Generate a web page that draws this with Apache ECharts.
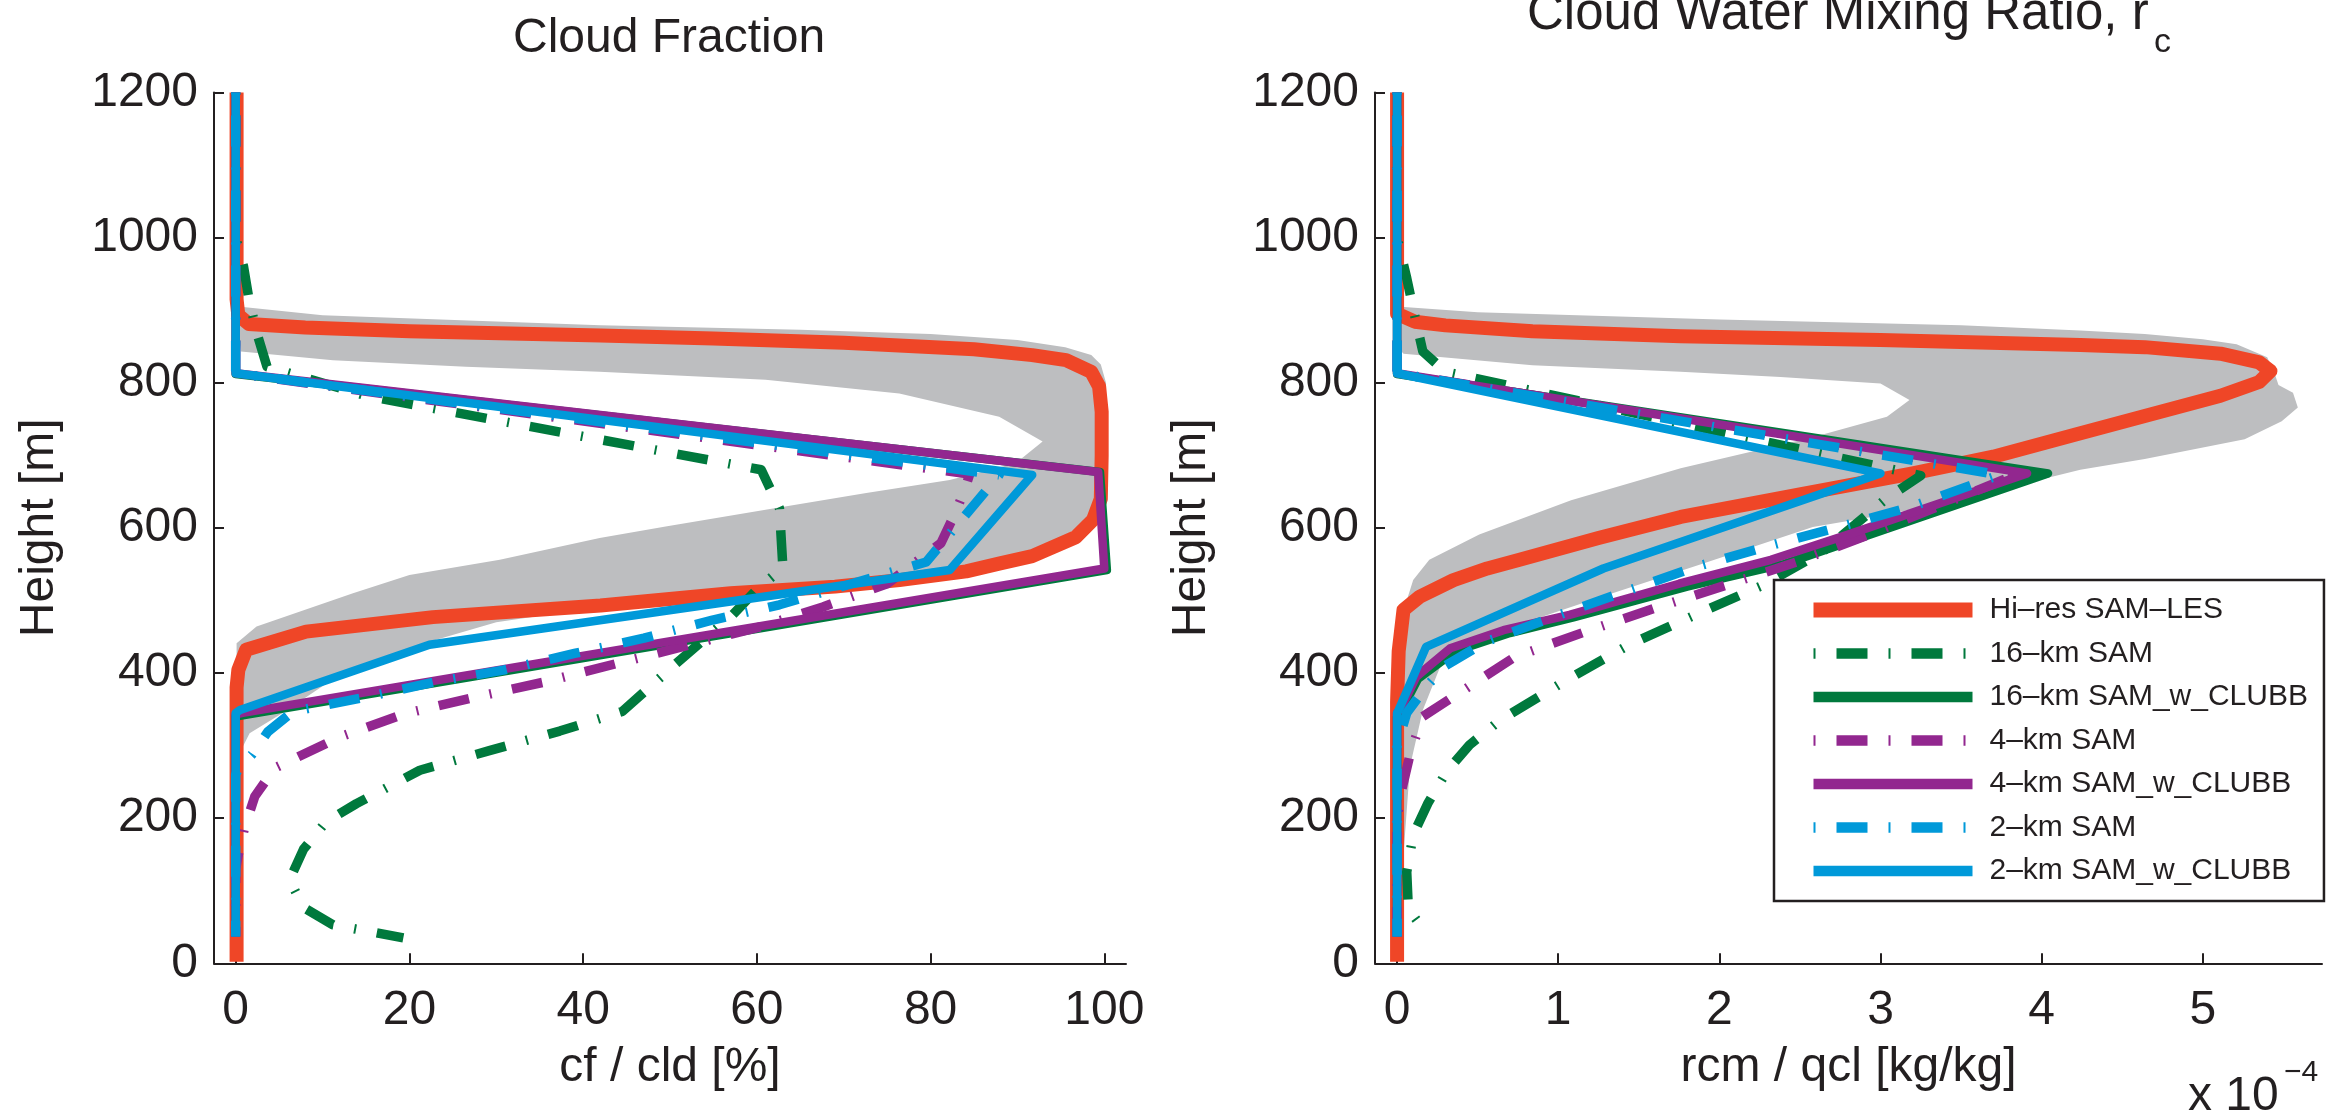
<!DOCTYPE html>
<html>
<head>
<meta charset="utf-8">
<script src="https://cdn.jsdelivr.net/npm/echarts@6/dist/echarts.min.js"></script>
<style>
  html, body { margin: 0; padding: 0; background: #fff; }
  #chart { width: 2350px; height: 1117px; }
</style>
</head>
<body>
<div id="chart"></div>
<script>
// ---------- Cloud fraction profiles: [cf (%), height (m)] ----------
const cfTicks = [0, 20, 40, 60, 80, 100];

// LES ensemble spread (outer edge top -> bottom, inner edge bottom -> top)
const cfBandOuter = [[0.3, 905], [10, 893], [42, 879], [65, 873], [80, 867], [90, 859], [95.5, 849], [98.5, 838],
  [99.6, 825], [100.2, 800], [100.3, 700], [100, 660], [99.2, 630], [97.5, 605], [95, 585], [91.7, 565], [84, 542],
  [72, 526], [57, 509], [42, 491], [30, 470], [22, 442], [12, 398], [5.4, 345], [1.6, 317], [0.8, 298], [0.2, 280]];
const cfBandInner = [[0.1, 300], [0.1, 441], [2.4, 464], [13.5, 510], [20, 535], [30.4, 556], [41.9, 586], [49.5, 602],
  [61, 625], [72.6, 648], [82.2, 666], [89.8, 689], [92.9, 719], [87.9, 753], [76.4, 785], [61, 804], [41.9, 815],
  [26.5, 822], [11.2, 831], [0.6, 843], [0.3, 870]];

const cfLes = [[0.1, 2], [0.1, 380], [0.3, 404], [1.2, 432], [8.1, 457], [22.7, 477], [42, 493], [57, 510], [69, 519],
  [76.4, 528], [84.1, 540], [88, 551], [91.7, 561], [96.7, 587], [98.7, 611], [99.6, 640], [99.7, 700], [99.7, 760],
  [99.4, 795], [98.5, 815], [95.6, 831], [91.7, 838], [85, 846], [70, 855], [55, 861], [42, 865], [20, 871], [8, 876],
  [1.5, 881], [0.3, 893], [0.1, 915], [0.1, 1200]];
const cf16km = [[0, 1200], [0, 1000], [0.9, 960], [1.5, 917], [2.4, 870], [3.6, 822], [15, 782], [60.5, 680],
  [62.6, 627], [63, 545], [60, 515], [57.2, 480], [50.7, 413], [44.5, 347], [37.3, 320], [29.2, 293], [21.2, 266],
  [13.9, 220], [10.4, 195], [7.8, 157], [6.2, 115], [7.8, 77], [11.2, 53], [15.3, 44], [19.3, 35]];
const cf16kmClubb = [[0, 1200], [0, 812], [99.5, 677], [100.3, 542], [1, 342], [0, 340], [0, 37]];
const cf4km = [[0, 1200], [0, 813], [84.5, 674], [84, 655], [82.9, 622], [81.2, 579], [75, 523], [67.6, 491],
  [60.5, 464], [35.7, 388], [27.7, 367], [19.5, 344], [12, 312], [4.5, 269], [2.2, 230], [1, 186], [0.3, 150],
  [0, 130], [0, 37]];
const cf4kmClubb = [[0, 1200], [0, 813], [99.3, 677], [100, 544], [0.8, 345], [0, 343], [0, 37]];
const cf2km = [[0, 1200], [0, 813], [87.9, 673], [79.5, 553], [62.6, 494], [54.9, 473], [47, 448], [39, 427],
  [30.8, 404], [22.7, 387], [14.7, 366], [6.6, 347], [3.7, 319], [1.9, 288], [0.3, 268], [0, 260], [0, 37]];
const cf2kmClubb = [[0, 1200], [0, 813], [91.7, 673], [82.2, 542], [22.3, 439], [0.5, 349], [0, 345], [0, 37]];

// ---------- Cloud water mixing ratio profiles: [rc (1e-4 kg/kg), height (m)] ----------
const rcTicks = [0, 1, 2, 3, 4, 5];

const rcBandOuter = [[0, 905], [0.5, 897], [2, 887], [3.5, 879], [4.24, 872], [4.64, 867], [5.0, 860], [5.21, 853],
  [5.4, 835], [5.45, 810], [5.47, 797], [5.56, 786], [5.59, 766], [5.49, 747], [5.26, 722], [4.64, 695], [4.24, 680],
  [3.6, 645], [3.08, 620], [2.58, 601], [1.9, 551], [1.2, 500], [0.6, 455], [0.31, 432], [0.16, 349], [0.08, 271],
  [0.04, 150], [0.03, 60]];
const rcBandInner = [[0, 60], [0.01, 470], [0.05, 493], [0.1, 528], [0.2, 556], [0.51, 591], [1.08, 638], [1.76, 682],
  [2.58, 725], [3.04, 753], [3.18, 776], [3.0, 799], [2.38, 808], [1.76, 815], [0.84, 824], [0.04, 840], [0, 850]];

const rcLes = [[0, 2], [0, 360], [0.01, 430], [0.04, 487], [0.14, 505], [0.35, 528], [0.56, 544], [0.76, 556],
  [1.25, 586], [1.76, 615], [2.5, 646], [3.2, 675], [3.7, 698], [4.2, 728], [4.64, 754], [5.11, 782], [5.35, 801],
  [5.42, 816], [5.35, 828], [5.11, 840], [4.64, 849], [4.24, 852], [3.0, 859], [1.76, 864], [0.84, 871], [0.3, 879],
  [0.11, 884], [0, 895], [0, 1200]];
const rc16km = [[0, 1200], [0, 1000], [0.06, 944], [0.11, 892], [0.16, 843], [0.3, 815], [3.25, 672], [3.04, 641],
  [2.64, 567], [2.27, 521], [1.86, 481], [1.45, 440], [1.05, 390], [0.64, 335], [0.45, 301], [0.31, 265],
  [0.19, 220], [0.1, 177], [0.06, 126], [0.07, 75], [0.19, 39]];
const rc16kmClubb = [[0, 1200], [0, 812], [4.04, 675], [2.4, 550], [1.8, 519], [1.1, 477], [0.7, 455], [0.36, 430],
  [0.13, 392], [0.02, 345], [0, 340], [0, 37]];
const rc4km = [[0, 1200], [0, 813], [3.85, 674], [2.92, 590], [2.48, 553], [2.04, 521], [1.61, 490], [1.17, 457],
  [0.73, 422], [0.34, 366], [0.16, 340], [0.085, 292], [0.03, 240], [0, 200], [0, 37]];
const rc4kmClubb = [[0, 1200], [0, 813], [3.91, 675], [2.79, 590], [2.32, 556], [1.75, 523], [1.07, 480], [0.66, 459],
  [0.33, 434], [0.12, 395], [0.02, 350], [0, 345], [0, 37]];
const rc2km = [[0, 1200], [0, 813], [3.74, 673], [3.19, 629], [2.74, 601], [2.29, 574], [1.85, 546], [1.4, 511],
  [0.98, 478], [0.55, 443], [0.3, 410], [0.18, 381], [0.06, 345], [0, 300], [0, 37]];
const rc2kmClubb = [[0, 1200], [0, 813], [3.0, 675], [1.28, 544], [0.18, 436], [0.01, 349], [0, 345], [0, 37]];

// ---------- Styling ----------
const FONT = "'Liberation Sans', Arial, Helvetica, sans-serif";
const TXT = '#231F20';
const RED = '#EF4627', GREEN = '#00793D', PURPLE = '#92278F', BLUE = '#0099D9', GRAY = '#BDBEC0';
const DASHDOT = [2, 21, 31, 21];

const seriesNames = ['Hi–res SAM–LES', '16–km SAM', '16–km SAM_w_CLUBB', '4–km SAM', '4–km SAM_w_CLUBB',
  '2–km SAM', '2–km SAM_w_CLUBB'];
const seriesColors = [RED, GREEN, GREEN, PURPLE, PURPLE, BLUE, BLUE];
const seriesDashed = [false, true, false, true, false, true, false];
const seriesWidths = [14, 9.5, 8.5, 9.5, 8.5, 9.5, 8.5];

function bandSeries(outer, inner, idx) {
  const poly = outer.concat(inner);
  return {
    type: 'custom', xAxisIndex: idx, yAxisIndex: idx, z: 1, silent: true,
    data: poly, encode: { x: 0, y: 1 },
    renderItem: function (params, api) {
      if (params.dataIndex !== 0) return null;
      return { type: 'polygon', shape: { points: poly.map(p => api.coord(p)) }, style: { fill: GRAY } };
    }
  };
}

function profileSeries(k, data, idx) {
  return {
    type: 'line', name: seriesNames[k], xAxisIndex: idx, yAxisIndex: idx, z: 2 + k,
    data: data, symbol: 'none', showSymbol: false, smooth: false, silent: true,
    lineStyle: {
      color: seriesColors[k], width: seriesWidths[k],
      type: seriesDashed[k] ? DASHDOT : 'solid', cap: 'butt', join: 'round'
    },
    emphasis: { disabled: true }
  };
}

function xAxisCfg(idx, min, max, ticks, name) {
  return {
    type: 'value', gridIndex: idx, min: min, max: max,
    name: name, nameLocation: 'middle', nameGap: 80,
    nameTextStyle: { fontSize: 48, color: TXT, fontFamily: FONT },
    axisLine: { show: true, onZero: false, lineStyle: { color: TXT, width: 2 } },
    axisTick: { show: true, inside: true, length: 10, lineStyle: { color: TXT, width: 2 }, customValues: ticks },
    axisLabel: { show: true, margin: 23, fontSize: 48, color: TXT, fontFamily: FONT, customValues: ticks,
      formatter: v => String(v) },
    splitLine: { show: false }
  };
}

function yAxisCfg(idx, gap) {
  return {
    type: 'value', gridIndex: idx, min: 0, max: 1200, interval: 200,
    name: 'Height [m]', nameLocation: 'middle', nameGap: gap,
    nameTextStyle: { fontSize: 48, color: TXT, fontFamily: FONT },
    axisLine: { show: true, onZero: false, lineStyle: { color: TXT, width: 2 } },
    axisTick: { show: true, inside: true, length: 10, lineStyle: { color: TXT, width: 2 } },
    axisLabel: { show: true, margin: 16, fontSize: 48, color: TXT, fontFamily: FONT, formatter: v => String(v) },
    splitLine: { show: false }
  };
}

const titleFont = { fontSize: 48, fontWeight: 'normal', color: TXT, fontFamily: FONT };

const option = {
  animation: false,
  backgroundColor: '#fff',
  title: [
    { text: 'Cloud Fraction', left: 513, top: 15, padding: 0, textStyle: titleFont },
    { text: 'Cloud Water Mixing Ratio, r', left: 1527, top: -11, padding: 0,
      textStyle: Object.assign({}, titleFont, { fontSize: 51 }) },
    { text: 'c', left: 2154, top: 26, padding: 0, textStyle: Object.assign({}, titleFont, { fontSize: 34 }) }
  ],
  grid: [
    { left: 214, top: 92.4, width: 912, height: 870.9 },
    { left: 1375, top: 92.4, width: 947, height: 870.9 }
  ],
  xAxis: [
    xAxisCfg(0, -2.5, 102.5, cfTicks, 'cf / cld [%]'),
    xAxisCfg(1, -0.137, 5.74, rcTicks, 'rcm / qcl [kg/kg]')
  ],
  yAxis: [yAxisCfg(0, 150), yAxisCfg(1, 159)],
  legend: {
    orient: 'vertical', left: 1774, top: 580,
    data: seriesNames.map((n, i) => ({ name: n, lineStyle: { width: i === 0 ? 15 : 10.5 } })),
    itemWidth: 159, itemHeight: 30, itemGap: 13.5,
    padding: [15, 16, 15, 32],
    borderColor: TXT, borderWidth: 2.5, backgroundColor: '#fff',
    textStyle: { fontSize: 30, color: TXT, fontFamily: FONT, padding: [0, 0, 0, 12] },
    selectedMode: false,
    itemStyle: { opacity: 0 },
    lineStyle: { width: 'inherit' }
  },
  graphic: [
    { type: 'text', left: 2188, top: 1073, silent: true,
      style: { text: 'x 10', font: '48px ' + FONT, fill: TXT } },
    { type: 'text', left: 2284, top: 1058, silent: true,
      style: { text: '−4', font: '30px ' + FONT, fill: TXT } }
  ],
  series: [
    bandSeries(cfBandOuter, cfBandInner, 0),
    profileSeries(0, cfLes, 0),
    profileSeries(1, cf16km, 0),
    profileSeries(2, cf16kmClubb, 0),
    profileSeries(3, cf4km, 0),
    profileSeries(4, cf4kmClubb, 0),
    profileSeries(5, cf2km, 0),
    profileSeries(6, cf2kmClubb, 0),
    bandSeries(rcBandOuter, rcBandInner, 1),
    profileSeries(0, rcLes, 1),
    profileSeries(1, rc16km, 1),
    profileSeries(2, rc16kmClubb, 1),
    profileSeries(3, rc4km, 1),
    profileSeries(4, rc4kmClubb, 1),
    profileSeries(5, rc2km, 1),
    profileSeries(6, rc2kmClubb, 1)
  ]
};

const chart = echarts.init(document.getElementById('chart'), null, { renderer: 'canvas' });
chart.setOption(option);
</script>
</body>
</html>
